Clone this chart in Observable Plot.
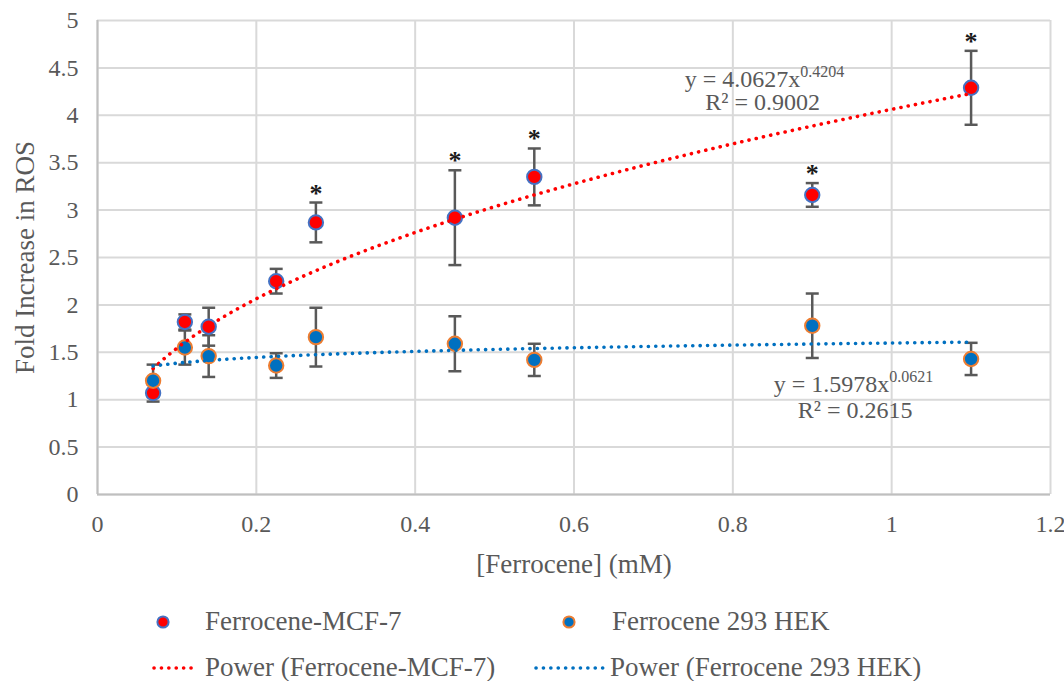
<!DOCTYPE html>
<html><head><meta charset="utf-8">
<script src="https://cdn.jsdelivr.net/npm/d3@7"></script>
<script src="https://cdn.jsdelivr.net/npm/@observablehq/plot@0.6"></script>
<style>
body{margin:0;background:#fff;font-family:"Liberation Serif","Times New Roman",serif;}
#wrap{position:relative;width:1064px;height:681px;overflow:hidden;}
#wrap svg{display:block;}
#wrap svg text{font-family:"Liberation Serif","Times New Roman",serif !important;}
#legend{position:absolute;left:0;top:595px;}
</style></head><body><div id="wrap"></div>
<script>
// ---- data ----
const concentrations = [0.07, 0.11, 0.14, 0.225, 0.275, 0.45, 0.55, 0.9, 1.1];
const mcf7Mean = [1.07, 1.82, 1.77, 2.25, 2.87, 2.92, 3.35, 3.16, 4.29];
const mcf7Err  = [0.09, 0.08, 0.20, 0.13, 0.21, 0.50, 0.30, 0.125, 0.39];
const hekMean  = [1.20, 1.55, 1.46, 1.36, 1.66, 1.59, 1.42, 1.78, 1.43];
const hekErr   = [0.17, 0.18, 0.22, 0.13, 0.31, 0.29, 0.17, 0.34, 0.17];
const significant = [false, false, false, false, true, true, true, true, true];
const mcf7Fit = [4.0627, 0.4204, 0.9002]; // a, b, R²  (y = a·x^b)
const hekFit  = [1.5978, 0.0621, 0.2615];
const fitRange = [0.07, 1.1];
const xTicks = [0, 0.2, 0.4, 0.6, 0.8, 1, 1.2];
const yTicks = [0, 0.5, 1, 1.5, 2, 2.5, 3, 3.5, 4, 4.5, 5];
const seriesNames = ["Ferrocene-MCF-7", "Ferrocene 293 HEK"];
const xLabel = "[Ferrocene] (mM)";
const yLabel = "Fold Increase in ROS";
// annotation anchors (data units)
const eqAnchors = [
  {fit: mcf7Fit, x: 0.8848, y: 4.296, rx: 0.8376, ry: 4.051},
  {fit: hekFit,  x: 0.9969, y: 1.079, rx: 0.954,  ry: 0.809}
];

// ---- derived tables ----
const rows = concentrations.map((x, i) => ({
  x, m: mcf7Mean[i], me: mcf7Err[i], h: hekMean[i], he: hekErr[i], sig: significant[i]
}));
const fitXs = d3.range(fitRange[0], fitRange[1] + 1e-9, 0.005);
const mcfCurve = fitXs.map(x => ({x, y: mcf7Fit[0] * Math.pow(x, mcf7Fit[1])}));
const hekCurve = fitXs.map(x => ({x, y: hekFit[0] * Math.pow(x, hekFit[1])}));

const FONT = "'Liberation Serif','Times New Roman',serif";
const capSymbol = {draw(ctx) { ctx.moveTo(-6.5, 0); ctx.lineTo(6.5, 0); }};
const txt = "#595959";
const fmt = d => String(d);

const errBars = (yk, ek) => [
  Plot.ruleX(rows, {x: "x", y1: d => d[yk] - d[ek], y2: d => d[yk] + d[ek], stroke: "#595959", strokeWidth: 2.5}),
  Plot.dot(rows, {x: "x", y: d => d[yk] + d[ek], symbol: capSymbol, stroke: "#595959", strokeWidth: 2.5, r: 3}),
  Plot.dot(rows, {x: "x", y: d => d[yk] - d[ek], symbol: capSymbol, stroke: "#595959", strokeWidth: 2.5, r: 3})
];
const dotted = {strokeWidth: 3.6, strokeDasharray: "0.1 7.3", strokeLinecap: "round", curve: "linear"};

const chart = Plot.plot({
  width: 1064, height: 595,
  marginLeft: 97, marginRight: 14, marginTop: 20, marginBottom: 101,
  style: {fontFamily: FONT, background: "white", overflow: "visible"},
  x: {domain: [0, 1.2]},
  y: {domain: [0, 5]},
  marks: [
    Plot.gridX(xTicks, {stroke: "#d9d9d9", strokeOpacity: 1, strokeWidth: 2}),
    Plot.gridY(yTicks, {stroke: "#d9d9d9", strokeOpacity: 1, strokeWidth: 2}),
    Plot.ruleX([0], {stroke: "#bfbfbf", strokeWidth: 2}),
    Plot.ruleY([0], {stroke: "#bfbfbf", strokeWidth: 2}),
    Plot.axisX(xTicks, {tickSize: 0, tickPadding: 20, fontSize: 24, fontFamily: FONT, fill: txt, tickFormat: fmt, label: null}),
    Plot.axisY(yTicks, {tickSize: 0, tickPadding: 19, fontSize: 24, fontFamily: FONT, fill: txt, tickFormat: fmt, label: null}),
    Plot.text([xLabel], {frameAnchor: "bottom", textAnchor: "middle", lineAnchor: "bottom", dy: 78, fontSize: 27, fontFamily: FONT, fill: txt}),
    Plot.text([yLabel], {frameAnchor: "left", textAnchor: "middle", lineAnchor: "middle", dx: -72, rotate: -90, fontSize: 27, fontFamily: FONT, fill: txt}),
    ...errBars("h", "he"),
    ...errBars("m", "me"),
    Plot.dot(rows, {x: "x", y: "m", r: 7.2, fill: "#ff0000", stroke: "#4472c4", strokeWidth: 2}),
    Plot.dot(rows, {x: "x", y: "h", r: 7.2, fill: "#0070c0", stroke: "#ed7d31", strokeWidth: 2}),
    Plot.line(mcfCurve, {x: "x", y: "y", stroke: "#ff0000", ...dotted}),
    Plot.line(hekCurve, {x: "x", y: "y", stroke: "#0070c0", ...dotted}),
    Plot.text(rows.filter(d => d.sig), {x: "x", y: d => d.m + d.me, text: () => "*", lineAnchor: "bottom", dy: -1, fontSize: 26, fontWeight: "bold", fontFamily: FONT, fill: "#1a1a1a"}),
    // equations
    Plot.text(eqAnchors, {x: "x", y: "y", text: d => `y = ${d.fit[0].toFixed(4)}x`, textAnchor: "end", lineAnchor: "bottom", fontSize: 24, fontFamily: FONT, fill: txt}),
    Plot.text(eqAnchors, {x: "x", y: "y", text: d => d.fit[1].toFixed(4), textAnchor: "start", lineAnchor: "bottom", dy: -10, fontSize: 16, fontFamily: FONT, fill: txt}),
    Plot.text(eqAnchors, {x: "rx", y: "ry", text: d => `R² = ${d.fit[2].toFixed(4)}`, textAnchor: "middle", lineAnchor: "bottom", fontSize: 24, fontFamily: FONT, fill: txt})
  ]
});
const wrap = document.getElementById("wrap");
wrap.appendChild(chart);

// ---- legend (below the plot) ----
const leg = d3.select(wrap).append("svg").attr("id", "legend").attr("width", 1064).attr("height", 86)
  .style("font-family", FONT);
const items = [
  {kind: "dot", fill: "#ff0000", stroke: "#4472c4", cx: 163, tx: 205, row: 0, label: seriesNames[0]},
  {kind: "dot", fill: "#0070c0", stroke: "#ed7d31", cx: 569, tx: 612, row: 0, label: seriesNames[1]},
  {kind: "line", stroke: "#ff0000", x1: 154, x2: 198, tx: 205, row: 1, label: `Power (${seriesNames[0]})`},
  {kind: "line", stroke: "#0070c0", x1: 536, x2: 605, tx: 610, row: 1, label: `Power (${seriesNames[1]})`}
];
const rowY = [27, 73];
items.forEach(it => {
  const cy = rowY[it.row];
  if (it.kind === "dot") {
    leg.append("circle").attr("cx", it.cx).attr("cy", cy).attr("r", 5.6)
      .attr("fill", it.fill).attr("stroke", it.stroke).attr("stroke-width", 2);
  } else {
    leg.append("line").attr("x1", it.x1).attr("x2", it.x2).attr("y1", cy).attr("y2", cy)
      .attr("stroke", it.stroke).attr("stroke-width", 3.6).attr("stroke-dasharray", "0.1 7.3").attr("stroke-linecap", "round");
  }
  leg.append("text").attr("x", it.tx).attr("y", cy + 8).attr("font-size", 27).attr("fill", txt).text(it.label);
});
</script></body></html>
